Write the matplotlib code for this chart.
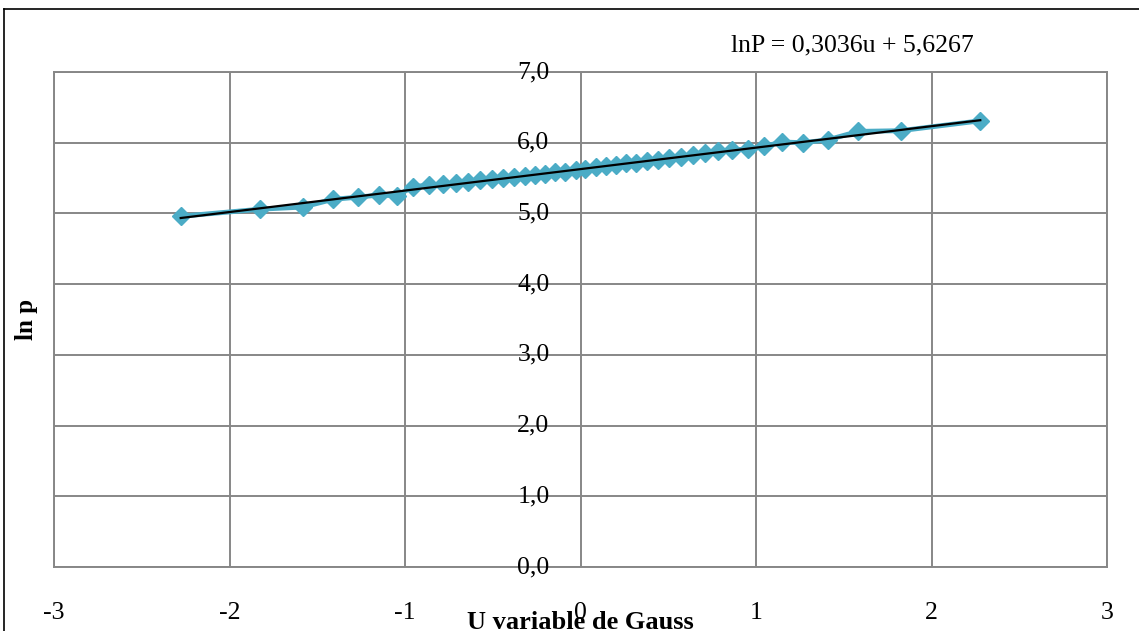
import numpy as np
import matplotlib
matplotlib.use('Agg')
import matplotlib.pyplot as plt
from matplotlib.lines import Line2D

# Gauss variable (plotting positions) and ln p values
u_values = [-2.278, -1.824, -1.582, -1.408, -1.268, -1.150, -1.046, -0.952,
            -0.866, -0.786, -0.711, -0.639, -0.571, -0.505, -0.441, -0.380,
            -0.319, -0.259, -0.201, -0.143, -0.086, -0.028,
            0.028, 0.086, 0.143, 0.201, 0.259, 0.319, 0.380, 0.441,
            0.505, 0.571, 0.639, 0.711, 0.786, 0.866, 0.952, 1.046,
            1.150, 1.268, 1.408, 1.582, 1.824, 2.278]
lnp_values = [4.96, 5.06, 5.09, 5.20, 5.23, 5.26, 5.25, 5.38,
              5.40, 5.41, 5.43, 5.45, 5.47, 5.48, 5.50, 5.51,
              5.53, 5.55, 5.56, 5.58, 5.59, 5.61,
              5.63, 5.65, 5.67, 5.69, 5.71, 5.72, 5.74, 5.75,
              5.78, 5.80, 5.83, 5.86, 5.88, 5.90, 5.91, 5.95,
              6.01, 6.00, 6.04, 6.16, 6.17, 6.31]
trend_slope = 0.3036
trend_intercept = 5.6267
x_ticks = [-3, -2, -1, 0, 1, 2, 3]
y_ticks = [0, 1, 2, 3, 4, 5, 6, 7]

plt.rcParams['font.family'] = ['Liberation Serif', 'DejaVu Serif']

fig = plt.figure(figsize=(11.39, 6.31), dpi=100)
ax = fig.add_axes([54 / 1139, 1 - 567 / 631, (1107 - 54) / 1139, (567 - 72) / 631])

grid_col = '#878787'
ax.set_xlim(-3, 3)
ax.set_ylim(0, 7)
ax.set_xticks(x_ticks)
ax.set_yticks(y_ticks)
ax.grid(True, color=grid_col, linewidth=1.4)
ax.set_axisbelow(True)
for s in ax.spines.values():
    s.set_color(grid_col)
    s.set_linewidth(1.4)
ax.tick_params(length=0)
ax.set_xticklabels([str(v) for v in x_ticks], fontsize=18.5)
ax.tick_params(axis='x', pad=25)
ax.set_yticklabels([])

# y tick labels sit next to the vertical axis at u = 0
for v in y_ticks:
    ax.text(-0.176, v, f'{v:.1f}'.replace('.', ','), ha='right', va='center',
            fontsize=18.5, clip_on=False)

# data series
ax.plot(u_values, lnp_values, color='#4BACC6', linewidth=3.5, marker='D',
        markersize=9.5, markeredgecolor='#4BACC6', zorder=3)

# linear trendline
u_line = np.array([min(u_values), max(u_values)])
ax.plot(u_line, trend_slope * u_line + trend_intercept, color='black',
        linewidth=1.6, zorder=4)

ax.text(0.86, 7.38, 'lnP = 0,3036u + 5,6267', fontsize=18.5, ha='left',
        va='center', clip_on=False)

ax.set_xlabel('U variable de Gauss', fontsize=19, fontweight='bold', labelpad=-9)
ax.set_ylabel('ln p', fontsize=18, fontweight='bold')
ax.yaxis.set_label_coords(-16 / 1053, 0.5)

# chart frame (top and left edges visible)
fig.add_artist(Line2D([4 / 1139, 1], [1 - 9 / 631, 1 - 9 / 631], color='black',
                      linewidth=1.2, transform=fig.transFigure))
fig.add_artist(Line2D([4 / 1139, 4 / 1139], [0, 1 - 9 / 631], color='black',
                      linewidth=1.2, transform=fig.transFigure))

fig.savefig('out.png', dpi=100)
